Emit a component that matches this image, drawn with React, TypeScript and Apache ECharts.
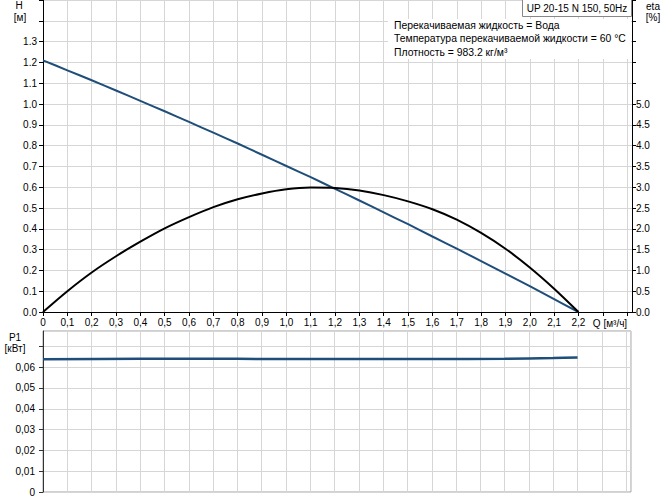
import React, { useEffect, useRef } from "react";
import * as echarts from "echarts";

const qValues = [0, 0.1, 0.2, 0.3, 0.4, 0.5, 0.6, 0.7, 0.8, 0.9, 1.0, 1.1, 1.2, 1.3, 1.4, 1.5, 1.6, 1.7, 1.8, 1.9, 2.0, 2.1, 2.2];
const headValues = [1.21, 1.162, 1.114, 1.065, 1.015, 0.965, 0.914, 0.862, 0.81, 0.756, 0.702, 0.648, 0.592, 0.536, 0.479, 0.422, 0.363, 0.305, 0.245, 0.185, 0.124, 0.062, 0.0];
const etaValues = [0, 0.5, 0.95, 1.34, 1.69, 2.01, 2.28, 2.52, 2.71, 2.85, 2.95, 2.99, 2.98, 2.92, 2.81, 2.66, 2.47, 2.22, 1.9, 1.52, 1.07, 0.56, 0];
const p1Q = [0, 0.4, 0.8, 1.2, 1.6, 1.9, 2.1, 2.2];
const p1Values = [0.0638, 0.064, 0.064, 0.0639, 0.0639, 0.064, 0.0644, 0.0647];

const infoLines = [
  "Перекачиваемая жидкость = Вода",
  "Температура перекачиваемой жидкости = 60 °C",
  "Плотность = 983.2 кг/м³",
];
const titleText = "UP 20-15 N 150, 50Hz";

const FONT = "'Liberation Sans', Arial, sans-serif";
const GRID_COLOR = "#d6d6d6";
const BLUE = "#1f4e7a";

export default function App() {
  const ref = useRef<HTMLDivElement>(null);
  useEffect(() => {
    if (!ref.current) return;
    const chart = echarts.init(ref.current, null, { renderer: "svg" });
    const headData = qValues.map((q, i) => [q, headValues[i]]);
    const etaData = qValues.map((q, i) => [q, etaValues[i]]);
    const p1Data = p1Q.map((q, i) => [q, p1Values[i]]);
    const xFmt = (v: number) => (v > 2.2001 ? "" : v === 0 ? "0" : v.toFixed(1).replace(".", ","));
    const textStyle = { fontFamily: FONT, fontSize: 10, fill: "#000" };
    chart.setOption({
      animation: false,
      textStyle: { fontFamily: FONT },
      grid: [
        { left: 43, right: 32, top: 0, height: 312, show: false },
        { left: 43, right: 33, top: 331, height: 161, show: true, borderColor: "#a0a0a0", borderWidth: 1 },
      ],
      xAxis: [
        {
          gridIndex: 0, type: "value", min: 0, max: 2.42, interval: 0.1,
          axisLine: { show: true, onZero: false, lineStyle: { color: "#000", width: 1 } },
          axisTick: { show: true, length: 4, lineStyle: { color: "#000" } },
          axisLabel: { formatter: xFmt, fontSize: 10, color: "#000", margin: 5, fontFamily: FONT, showMaxLabel: false },
          splitLine: { show: true, lineStyle: { color: GRID_COLOR, width: 1 } },
        },
        {
          gridIndex: 1, type: "value", min: 0, max: 2.42, interval: 0.1,
          axisLine: { show: false },
          axisTick: { show: false },
          axisLabel: { show: false },
          splitLine: { show: true, lineStyle: { color: GRID_COLOR, width: 1 } },
        },
      ],
      yAxis: [
        {
          gridIndex: 0, type: "value", min: 0, max: 1.5, interval: 0.1, position: "left",
          axisLine: { show: true, lineStyle: { color: "#000", width: 1 } },
          axisTick: { show: true, length: 4, lineStyle: { color: "#000" } },
          axisLabel: { formatter: (v: number) => (v > 1.3001 ? "" : v.toFixed(1)), fontSize: 10, color: "#000", margin: 6, fontFamily: FONT },
          splitLine: { show: true, lineStyle: { color: GRID_COLOR, width: 1 } },
        },
        {
          gridIndex: 0, type: "value", min: 0, max: 7.5, interval: 0.5, position: "right",
          axisLine: { show: true, lineStyle: { color: "#000", width: 1 } },
          axisTick: { show: true, length: 4, lineStyle: { color: "#000" } },
          axisLabel: { formatter: (v: number) => (v > 5.0001 ? "" : v.toFixed(1)), fontSize: 10, color: "#000", margin: 4, fontFamily: FONT },
          splitLine: { show: false },
        },
        {
          gridIndex: 1, type: "value", min: 0, max: 0.0774, interval: 0.01, position: "left",
          axisLine: { show: true, lineStyle: { color: "#333", width: 1 } },
          axisTick: { show: true, length: 4, lineStyle: { color: "#333" } },
          axisLabel: {
            formatter: (v: number) => (v === 0 ? "0" : v > 0.0601 ? "" : v.toFixed(2).replace(".", ",")),
            fontSize: 10, color: "#000", margin: 8, fontFamily: FONT, showMaxLabel: false,
          },
          splitLine: { show: true, lineStyle: { color: GRID_COLOR, width: 1 } },
        },
      ],
      series: [
        {
          type: "line", xAxisIndex: 0, yAxisIndex: 0, data: headData, showSymbol: false, smooth: 0.2,
          lineStyle: { color: BLUE, width: 2 }, z: 3,
        },
        {
          type: "line", xAxisIndex: 0, yAxisIndex: 1, data: etaData, showSymbol: false, smooth: 0.3,
          lineStyle: { color: "#000", width: 2 }, z: 4,
        },
        {
          type: "line", xAxisIndex: 1, yAxisIndex: 2, data: p1Data, showSymbol: false, smooth: 0.3,
          lineStyle: { color: BLUE, width: 2.5 }, z: 3,
        },
      ],
      graphic: [
        { type: "rect", shape: { x: 388, y: 19, width: 243, height: 40 }, style: { fill: "#fff" }, z: 10 },
        ...infoLines.map((t, i) => ({
          type: "text", x: 394, y: 25 + i * 13.5, z: 11,
          style: { ...textStyle, fontSize: 10.4, text: t, verticalAlign: "middle" },
        })),
        { type: "rect", shape: { x: 522.5, y: -1.5, width: 109, height: 18 }, style: { fill: "#fff", stroke: "#888", lineWidth: 1 }, z: 12 },
        { type: "text", x: 577, y: 8, z: 13, style: { ...textStyle, text: titleText, align: "center", verticalAlign: "middle" } },
        { type: "text", x: 19, y: 5, z: 11, style: { ...textStyle, text: "H", align: "center", verticalAlign: "middle" } },
        { type: "text", x: 20, y: 17, z: 11, style: { ...textStyle, text: "[м]", align: "center", verticalAlign: "middle" } },
        { type: "text", x: 653, y: 6, z: 11, style: { ...textStyle, text: "eta", align: "center", verticalAlign: "middle" } },
        { type: "text", x: 653, y: 17, z: 11, style: { ...textStyle, text: "[%]", align: "center", verticalAlign: "middle" } },
        { type: "text", x: 610, y: 323, z: 11, style: { ...textStyle, text: "Q [м³/ч]", align: "center", verticalAlign: "middle" } },
        { type: "text", x: 15, y: 337, z: 11, style: { ...textStyle, text: "P1", align: "center", verticalAlign: "middle" } },
        { type: "text", x: 15, y: 348, z: 11, style: { ...textStyle, text: "[кВт]", align: "center", verticalAlign: "middle" } },
      ],
    });
    return () => chart.dispose();
  }, []);
  return <div ref={ref} style={{ width: 664, height: 497, position: "fixed", left: 0, top: 0, background: "#fff" }} />;
}
